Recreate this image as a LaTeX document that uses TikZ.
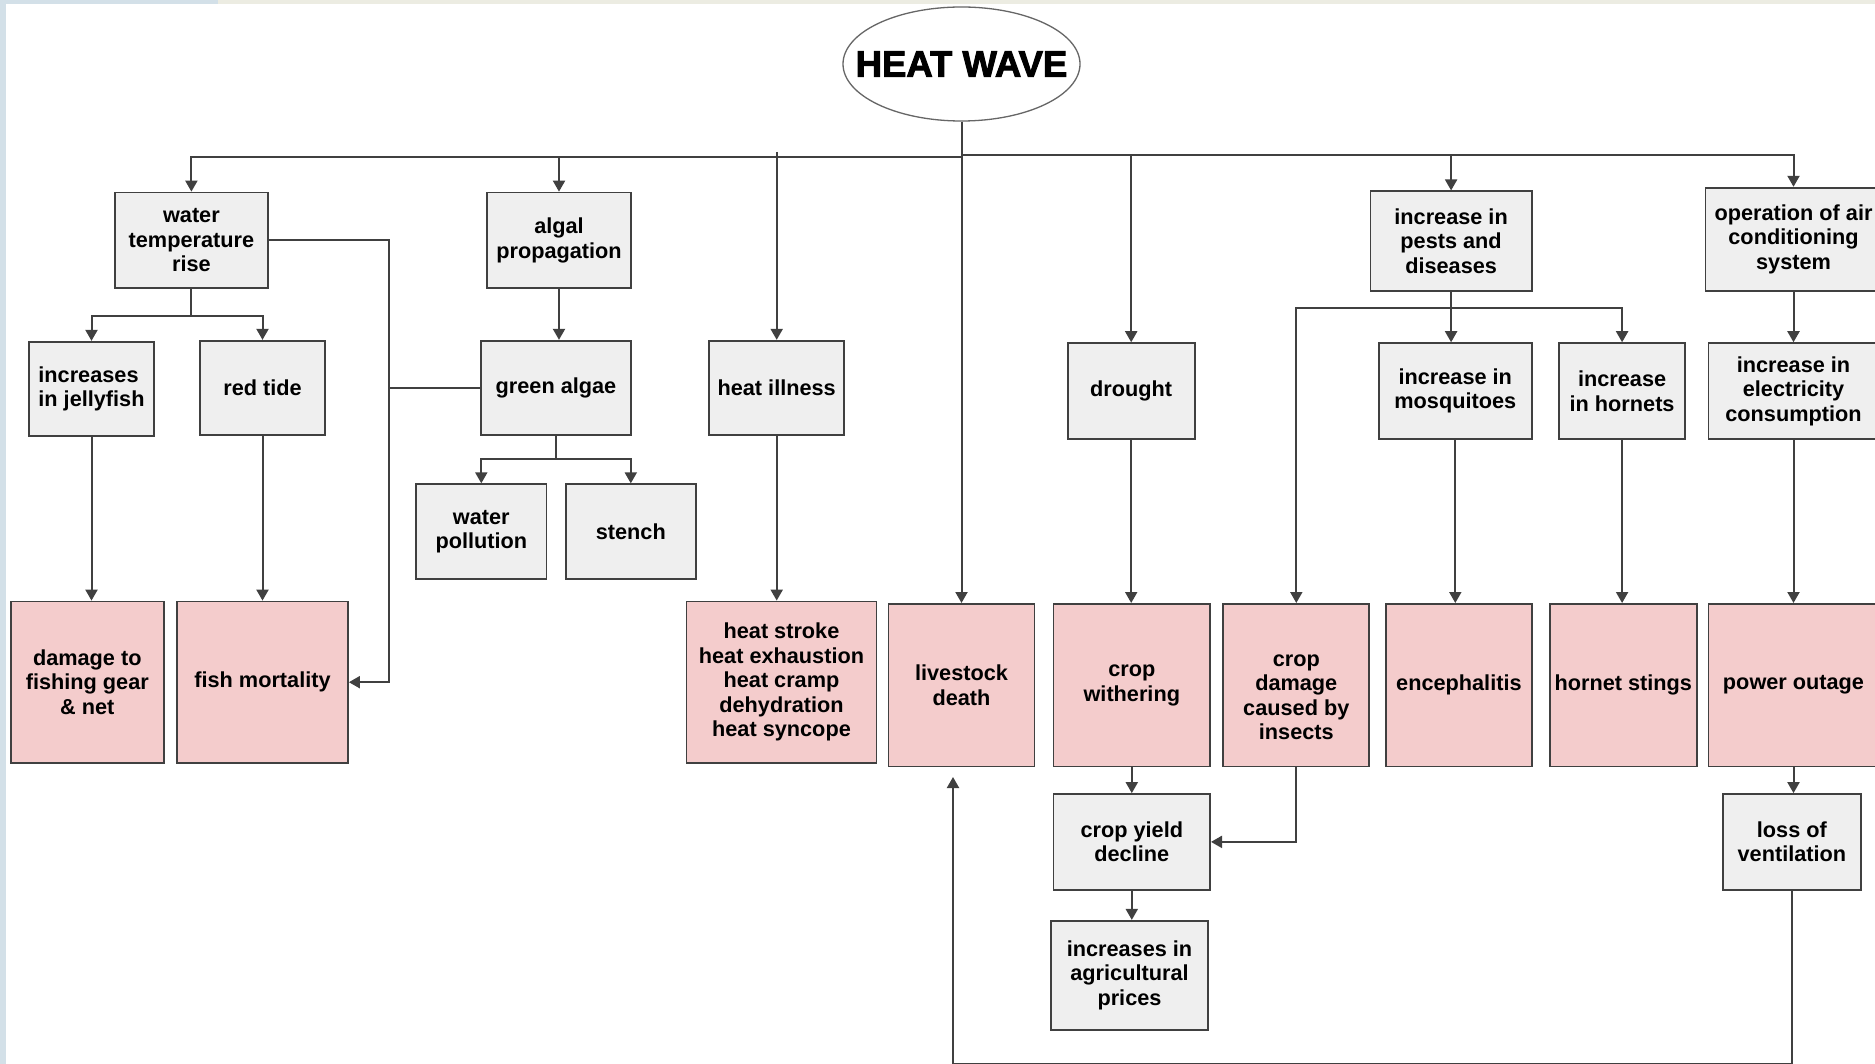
\documentclass[tikz,border=0pt]{standalone}
\usepackage{fontspec}
\setmainfont{Liberation Sans}
\newfontfamily\titlefont{Liberation Sans Bold}[FakeBold=2.5]
\usetikzlibrary{arrows.meta,shapes.geometric}
\definecolor{leftc}{HTML}{D3E0E8}
\definecolor{topc}{HTML}{ECECE2}
\definecolor{grayf}{HTML}{EFEFEF}
\definecolor{pinkf}{HTML}{F4CCCC}
\definecolor{bordc}{HTML}{404040}
\definecolor{linec}{HTML}{404040}
\begin{document}
\begin{tikzpicture}[x=1pt,y=-1pt,
  boxfont/.style={font=\fontsize{21.7}{24.5}\selectfont\bfseries},
  box/.style={draw=bordc, line width=1.8pt, fill=grayf, align=center, inner sep=0pt, boxfont},
  pbox/.style={box, fill=pinkf},
  conn/.style={draw=linec, line width=2pt},
  arr/.style={conn, -{Triangle[length=11pt,width=12pt]}},
]
\useasboundingbox (0,0) rectangle (1875,1064);
\clip (0,0) rectangle (1875,1064);
\fill[white] (0,0) rectangle (1875,1064);
\fill[leftc] (0,0) rectangle (5.5,1064);
\fill[leftc] (0,0) rectangle (218,4.5);
\fill[topc] (218,0) rectangle (1875,4.5);

% title
\node[ellipse, draw=bordc!80, line width=1.3pt, fill=white, minimum width=237pt, minimum height=114pt,
  inner xsep=-40pt, inner ysep=0pt]
  (hw) at (961.5,64) {\titlefont\fontsize{36.5}{40}\selectfont HEAT WAVE};

% row 1
\node[box, minimum width=153pt, minimum height=95.7pt] (wtr) at (191.4,240.4) {water\\temperature\\rise};
\node[box, minimum width=144.7pt, minimum height=95.7pt] (algal) at (559,240.4) {algal\\propagation};
\node[box, minimum width=161.4pt, minimum height=99.3pt] (pests) at (1451.1,241) {increase in\\pests and\\diseases};
\node[box, minimum width=176pt, minimum height=103pt] (ac) at (1793.5,239.2) {operation of air\\conditioning\\system};

% row 2
\node[box, minimum width=125.6pt, minimum height=94.5pt, align=left] (jelly) at (91.5,389) {increases\\in jellyfish};
\node[box, minimum width=125.6pt, minimum height=94.5pt] (redtide) at (262.5,388) {red tide};
\node[box, minimum width=150.7pt, minimum height=94.5pt] (green) at (556,388) {green algae};
\node[box, minimum width=135pt, minimum height=94.5pt] (heatill) at (776.7,388) {heat illness};
\node[box, minimum width=126.8pt, minimum height=95.7pt] (drought) at (1131.2,391) {drought};
\node[box, minimum width=153pt, minimum height=95.7pt] (mosq) at (1455.3,391) {increase in\\mosquitoes};
\node[box, minimum width=125.6pt, minimum height=95.7pt] (hornets) at (1622.1,391) {increase\\in hornets};
\node[box, minimum width=170pt, minimum height=95.7pt] (elec) at (1793.5,391) {increase in\\electricity\\consumption};

% row 2.5
\node[box, minimum width=130.4pt, minimum height=94.5pt] (waterpol) at (481.3,531.5) {water\\pollution};
\node[box, minimum width=130.4pt, minimum height=94.5pt] (stench) at (630.8,531.5) {stench};

% row 3
\node[pbox, minimum width=153pt, minimum height=161.4pt] (damage) at (87.3,682.2) {damage to\\fishing gear\\\& net};
\node[pbox, minimum width=171pt, minimum height=161.4pt] (fishmort) at (262.5,682.2) {fish mortality};
\node[pbox, minimum width=190pt, minimum height=161.4pt] (heatstroke) at (781.5,682.2) {heat stroke\\heat exhaustion\\heat cramp\\dehydration\\heat syncope};
\node[pbox, minimum width=146pt, minimum height=162.6pt] (livestock) at (961.5,685.2) {livestock\\death};
\node[pbox, minimum width=156.6pt, minimum height=162.6pt] (withering) at (1131.8,685.2) {crop\\withering};
\node[pbox, minimum width=146pt, minimum height=162.6pt] (cropdamage) at (1296.3,685.2) {};
\node[boxfont, align=center, inner sep=0pt] (cropdamagetxt) at ([yshift=-12pt]cropdamage.center) {crop\\damage\\caused by\\insects};
\node[pbox, minimum width=146pt, minimum height=162.6pt] (enceph) at (1458.9,685.2) {encephalitis};
\node[pbox, minimum width=147pt, minimum height=162.6pt] (stings) at (1623.3,685.2) {hornet stings};
\node[pbox, minimum width=170pt, minimum height=162.6pt] (outage) at (1793.5,685.2) {power outage};

% row 4, 5
\node[box, minimum width=156.6pt, minimum height=95.7pt] (yield) at (1131.8,841.9) {crop yield\\decline};
\node[box, minimum width=137.6pt, minimum height=95.7pt] (vent) at (1791.9,841.9) {loss of\\ventilation};
\node[box, minimum width=156.7pt, minimum height=108.8pt] (prices) at (1129.5,975.2) {increases in\\agricultural\\prices};

% helper coordinates
\coordinate (busL) at (0,157);
\coordinate (busR) at (0,155);
\coordinate (hitop) at (776.7,152);
\coordinate (wsplit) at (0,315.7);
\coordinate (vx) at (388.6,0);
\coordinate (gsplit) at (0,459.2);
\coordinate (psplit) at (0,308.5);
\coordinate (bot) at (0,1064);
\coordinate (lvtip) at (953,777);

% main bus
\draw[conn] (hw.south) -- (hw.south |- busL);
\draw[arr] (hw.south |- busL) -| (wtr.north);
\draw[arr] (hw.south |- busL) -| (algal.north);
\draw[arr] (hitop) -- (heatill.north);
\draw[arr] (hw.south) -- (livestock.north);
\draw[arr] (hw.south |- busR) -| (drought.north);
\draw[arr] (hw.south |- busR) -| (pests.north);
\draw[arr] (hw.south |- busR) -| (ac.north);

% water temperature rise
\draw[conn] (wtr.south) -- (wtr.south |- wsplit);
\draw[arr] (wtr.south |- wsplit) -| (jelly.north);
\draw[arr] (wtr.south |- wsplit) -| (redtide.north);
\draw[arr] (wtr.east) -| (vx |- fishmort.east) -- (fishmort.east);
\draw[conn] (green.west) -- (vx |- green.west);
\draw[arr] (jelly.south) -- (jelly.south |- damage.north);
\draw[arr] (redtide.south) -- (redtide.south |- fishmort.north);

% algae
\draw[arr] (algal.south) -- (algal.south |- green.north);
\draw[conn] (green.south) -- (green.south |- gsplit);
\draw[arr] (green.south |- gsplit) -| (waterpol.north);
\draw[arr] (green.south |- gsplit) -| (stench.north);

% heat illness
\draw[arr] (heatill.south) -- (heatill.south |- heatstroke.north);

% drought
\draw[arr] (drought.south) -- (drought.south |- withering.north);
\draw[arr] (withering.south) -- (withering.south |- yield.north);
\draw[arr] (cropdamage.south) |- (yield.east);
\draw[arr] (yield.south) -- (yield.south |- prices.north);

% pests
\draw[conn] (pests.south) -- (pests.south |- psplit);
\draw[arr] (pests.south |- psplit) -- (pests.south |- mosq.north);
\draw[arr] (pests.south |- psplit) -| (hornets.north);
\draw[arr] (pests.south |- psplit) -| (cropdamage.north);
\draw[arr] (mosq.south) -- (mosq.south |- enceph.north);
\draw[arr] (hornets.south) -- (hornets.south |- stings.north);

% air conditioning
\draw[arr] (ac.south) -- (ac.south |- elec.north);
\draw[arr] (elec.south) -- (elec.south |- outage.north);
\draw[arr] (outage.south) -- (outage.south |- vent.north);
\draw[arr] (vent.south) -- (vent.south |- bot) -- (lvtip |- bot) -- (lvtip);
\end{tikzpicture}
\end{document}
